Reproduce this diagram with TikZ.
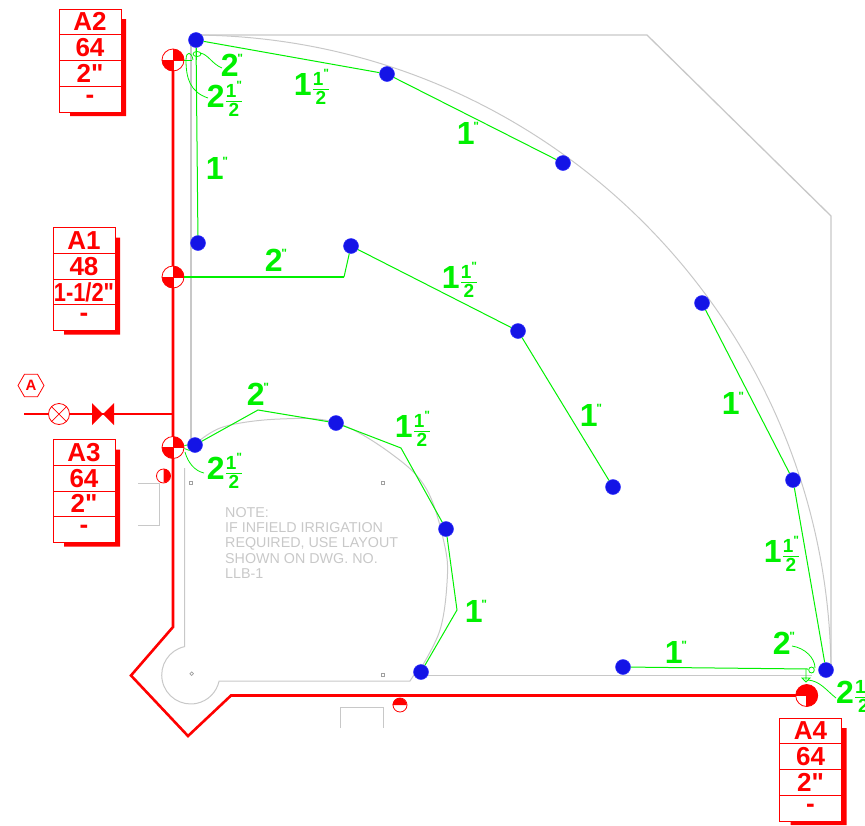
\documentclass[tikz,border=0pt]{standalone}
\usepackage{fontspec}
\setmainfont{Liberation Sans}[Ligatures=TeXOff]
\usetikzlibrary{shapes.geometric}
\definecolor{pipered}{RGB}{255,0,0}
\definecolor{lateralgreen}{RGB}{0,240,0}
\definecolor{fieldgray}{RGB}{200,200,200}
\definecolor{headblue}{RGB}{20,20,230}
\tikzset{
	fieldline/.style={draw=fieldgray, line width=1pt},
	mainpipe/.style={draw=pipered, line width=2.6pt},
	lateral/.style={draw=lateralgreen, line width=1pt},
	leader/.style={draw=lateralgreen, line width=0.8pt},
	headdot/.style={circle, fill=headblue, draw=blue!80!white, line width=0.5pt, inner sep=0pt, minimum size=15pt},
	tagrow/.style={draw=pipered, line width=0.8pt, text=pipered, inner sep=0pt, outer sep=0pt, minimum width=62pt, minimum height=25.75pt, font=\fontsize{26}{26}\selectfont\bfseries},
	sizelabel/.style={text=lateralgreen, inner sep=0pt, font=\fontsize{32}{32}\selectfont\bfseries},
	smallsquare/.style={draw=fieldgray!80!black, line width=0.7pt}
}
\newcommand{\inchmark}{\raisebox{0.42em}{\fontsize{12}{12}\selectfont"}}
\newcommand{\wholesize}[1]{#1\kern-0.04em\inchmark}
\newcommand{\fracsize}[2]{#1$\frac{\mbox{\fontsize{19}{19}\selectfont\bfseries 1\inchmark}}{\mbox{\fontsize{19}{19}\selectfont\bfseries #2}}$}
% quadrant valve: position, name, start angles of the filled sectors
\def\rcvalve(#1,#2)#3#4{
	\node[circle, draw=pipered, fill=white, line width=0.8pt, inner sep=0pt, minimum size=22pt] (#3) at (#1,#2) {};
	\foreach \a in {#4} {\fill[pipered] (#3.center) -- ++(\a:11pt) arc (\a:\a+90:11pt) -- cycle;}
	\draw[pipered, line width=0.6pt] (#3.west) -- (#3.east) (#3.north) -- (#3.south);
}
% size tag: top left corner, name, four rows
\def\sizetag(#1,#2)#3#4#5#6#7{
	\fill[pipered] (#1+62,#2+10) -- (#1+67,#2+10) -- (#1+67,#2+107) -- (#1+11,#2+107) -- (#1+11,#2+103) -- (#1+62,#2+103) -- cycle;
	\node[tagrow, fill=white] (#3a) at (#1+31,#2+12.875) {#4};
	\node[tagrow] (#3b) at (#1+31,#2+38.625) {#5};
	\node[tagrow] (#3c) at (#1+31,#2+64.375) {#6};
	\node[tagrow] (#3d) at (#1+31,#2+90.125) {#7};
}

\begin{document}
\begin{tikzpicture}[x=1pt, y=1pt, yscale=-1]
		%%%%% START %%%%%
		\useasboundingbox (0, 0) rectangle (865, 825);
		
		% field outline
		\draw[fieldline, line width=1.3pt] (191, 35) -- (647, 35) -- (831, 216) -- (831, 672);
		\draw[fieldline] (191, 35) arc (-90:0:640pt);
		\draw[fieldline, line width=1.3pt] (191, 35) -- (191, 443);
		\draw[fieldline] (184.7, 468) -- (184.7, 646.6) arc (258:12:29pt) -- (410, 681) -- (421, 664);
		\draw[fieldline] (427, 675) -- (812, 675);
		\draw[fieldline] plot[smooth, tension=0.6] coordinates {(193, 446) (223, 427) (280, 419) (337, 423) (393, 455) (427, 490) (445, 547) (447, 583) (440, 630) (421, 668)};
		
		% bases
		\draw[smallsquare] (189.5, 481.5) rectangle (192.5, 484.5);
		\draw[smallsquare] (381.5, 481.5) rectangle (384.5, 484.5);
		\draw[smallsquare] (381.5, 673.5) rectangle (384.5, 676.5);
		\draw[smallsquare] (191.7, 673.7) circle (1.8pt);
		
		% dugouts
		\draw[fieldline] (138, 483) -- (159, 483) -- (159, 525) -- (138, 525);
		\draw[fieldline] (340, 728) -- (340, 707) -- (383, 707) -- (383, 728);
		
		\node[text=fieldgray, anchor=north west, align=left, inner sep=0pt, font=\fontsize{14.3}{15.4}\selectfont] (note) at (225, 507) {NOTE:\\IF INFIELD IRRIGATION\\REQUIRED, USE LAYOUT\\SHOWN ON DWG. NO.\\LLB-1};
		
		% heads
		\node[headdot] (h1) at (196, 40) {};
		\node[headdot] (h2) at (387, 74) {};
		\node[headdot] (h3) at (563, 163) {};
		\node[headdot] (h4) at (198, 243) {};
		\node[headdot] (h5) at (351, 246) {};
		\node[headdot] (h6) at (518, 331) {};
		\node[headdot] (h7) at (613, 487) {};
		\node[headdot] (h8) at (702, 303) {};
		\node[headdot] (h9) at (793, 480) {};
		\node[headdot] (h10) at (826, 670) {};
		\node[headdot] (h11) at (623, 667) {};
		\node[headdot] (h12) at (421, 672) {};
		\node[headdot] (h13) at (446, 529) {};
		\node[headdot] (h14) at (336, 423) {};
		\node[headdot] (h15) at (195, 445) {};
		
		% main line
		\coordinate (m1) at (173, 627);
		\coordinate (m2) at (131, 675.5);
		\coordinate (m3) at (188, 736);
		\coordinate (m4) at (231, 695.5);
		\coordinate (m5) at (800, 695.5);
		\draw[mainpipe, line join=miter] (173, 60) -- (m1) -- (m2) -- (m3) -- (m4) -- (m5);
		\coordinate (s0) at (24, 414);
		\coordinate (s1) at (173, 414);
		\draw[mainpipe, line width=2.2pt] (s0) -- (s1);
		
		\node[regular polygon, regular polygon sides=6, draw=pipered, line width=0.8pt, text=pipered, inner sep=0pt, minimum size=26pt, font=\fontsize{15}{15}\selectfont\bfseries] (tagA) at (31, 385.5) {A};
		
		\node[circle, draw=pipered, fill=white, line width=0.8pt, inner sep=0pt, minimum size=21pt] (meter) at (59, 414) {};
		\draw[pipered, line width=0.7pt] (meter.45) -- (meter.225) (meter.135) -- (meter.315);
		\fill[pipered] (92, 403) -- (103, 414) -- (92, 425) -- cycle;
		\fill[pipered] (114, 403) -- (103, 414) -- (114, 425) -- cycle;
		
		% valves
		\rcvalve(173,60){vA2}{270,90}
		\rcvalve(173,277){vA1}{270,90}
		\rcvalve(173,447.5){vA3}{270,90}
		\rcvalve(806.7,695.5){vA4}{270,0,180}
		
		\node[circle, draw=pipered, fill=white, line width=0.8pt, inner sep=0pt, minimum size=14pt] (qA) at (163.5, 476) {};
		\fill[pipered] (qA.north) arc (-90:90:7pt) -- cycle;
		\node[circle, draw=pipered, fill=white, line width=0.8pt, inner sep=0pt, minimum size=14pt] (qB) at (400, 705) {};
		\fill[pipered] (qB.west) arc (180:360:7pt) -- cycle;
		
		% tags
		\sizetag(59,9){tA2}{A2}{64}{2"}{-}
		\sizetag(53,227.5){tA1}{A1}{48}{\scalebox{0.84}[1]{1-1/2"}}{-}
		\sizetag(53,439.5){tA3}{A3}{64}{2"}{-}
		\sizetag(779.5,718){tA4}{A4}{64}{2"}{-}
		
		% laterals
		\draw[lateral] (h1) -- (h2) -- (h3);
		\draw[lateral] (h1) -- (h4);
		\coordinate (b1) at (344, 277);
		\draw[lateral, line width=1.4pt] (vA1) -- (b1);
		\draw[lateral] (b1) -- (h5) -- (h6) -- (h7);
		\draw[lateral] (h8) -- (h9) -- (h10);
		\coordinate (b2) at (808, 669);
		\draw[lateral] (h11) -- (b2);
		\coordinate (b3) at (258, 410);
		\coordinate (b4) at (401, 448);
		\coordinate (b5) at (457, 610);
		\draw[lateral] (h15) -- (b3) -- (h14) -- (b4) -- (h13) -- (b5) -- (h12);
		
		% leaders and fittings
		\coordinate (l1) at (222, 68);
		\coordinate (l2) at (208, 98);
		\coordinate (l3) at (204, 473);
		\coordinate (l4) at (792, 646);
		\coordinate (l5) at (836, 698);
		\draw[leader] (vA2.east) -- (192, 60) (196, 48) -- (196, 60);
		\draw[leader] (197, 54) ellipse (4pt and 2.5pt);
		\draw[leader] (l1) .. controls (212, 64) and (208, 54) .. (200, 53);
		\draw[leader] (l2) .. controls (190, 92) and (186, 78) .. (186, 60) .. controls (186, 50) and (192, 52) .. (193, 60);
		\draw[leader] (vA3.east) ++(0, -2) -- (h15.west |- 0, 445);
		\draw[leader] (vA3.east) ++(0, 1) -- (h15.south west);
		\draw[leader] (l3) .. controls (195, 471) and (188, 463) .. (185, 452);
		\draw[leader] (l4) .. controls (805, 648) and (815, 658) .. (815, 668);
		\draw[leader] (811.5, 670) ellipse (2.8pt and 3pt);
		\draw[leader] (806, 669) -- (806, 680) (802, 678) -- (810, 678) -- (806, 682) -- cycle;
		\draw[leader] (l5) .. controls (826, 690) and (820, 681) .. (808, 680);
		
		% size labels
		\node[sizelabel] (d1) at (232, 65) {\wholesize{2}};
		\node[sizelabel] (d2) at (225, 99) {\fracsize{2}{2}};
		\node[sizelabel] (d3) at (312, 87) {\fracsize{1}{2}};
		\node[sizelabel] (d4) at (217, 168) {\wholesize{1}};
		\node[sizelabel] (d5) at (468, 133) {\wholesize{1}};
		\node[sizelabel] (d6) at (276, 260) {\wholesize{2}};
		\node[sizelabel] (d7) at (460, 280) {\fracsize{1}{2}};
		\node[sizelabel] (d8) at (591, 415) {\wholesize{1}};
		\node[sizelabel] (d9) at (733, 403) {\wholesize{1}};
		\node[sizelabel] (d10) at (782, 554) {\fracsize{1}{2}};
		\node[sizelabel] (d11) at (784, 643) {\wholesize{2}};
		\node[sizelabel] (d12) at (676, 652) {\wholesize{1}};
		\node[sizelabel, anchor=west] (d13) at (836, 695) {\fracsize{2}{2}};
		\node[sizelabel] (d14) at (258, 394) {\wholesize{2}};
		\node[sizelabel] (d15) at (413, 429) {\fracsize{1}{2}};
		\node[sizelabel] (d16) at (225, 471) {\fracsize{2}{2}};
		\node[sizelabel] (d17) at (476, 611) {\wholesize{1}};
		
		%%%%% END %%%%%
	\end{tikzpicture}
\end{document}
